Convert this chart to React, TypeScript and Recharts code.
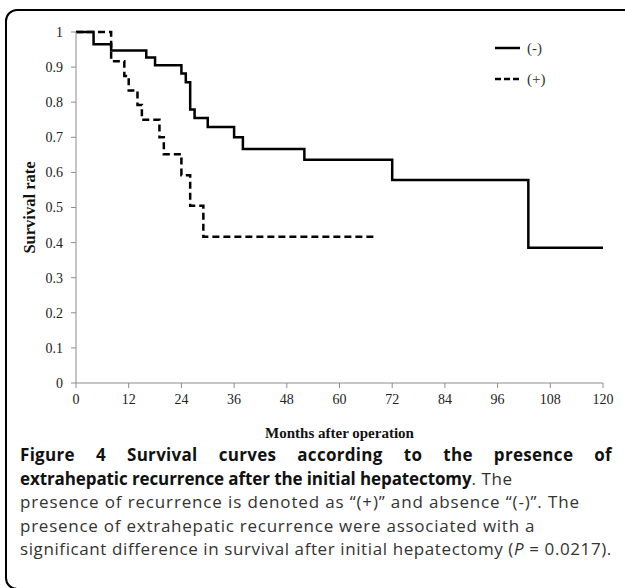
import { LineChart, Line, XAxis, YAxis, Label } from 'recharts';

// Kaplan-Meier steps
const negMonths = [0, 4, 8, 16, 18, 24, 25, 26, 27, 30, 36, 38, 52, 72, 103, 120];
const negSurvival = [1, 0.965, 0.947, 0.927, 0.905, 0.882, 0.857, 0.779, 0.755, 0.729, 0.7, 0.667, 0.636, 0.578, 0.385, 0.385];

const posMonths = [0, 8, 11, 12, 14, 15, 19, 20, 24, 26, 29, 68];
const posSurvival = [1, 0.917, 0.875, 0.833, 0.792, 0.75, 0.7, 0.652, 0.592, 0.505, 0.417, 0.417];

const xTicks = [0, 12, 24, 36, 48, 60, 72, 84, 96, 108, 120];
const yTicks = [0, 0.1, 0.2, 0.3, 0.4, 0.5, 0.6, 0.7, 0.8, 0.9, 1];

const negData = negMonths.map((m, i) => ({ month: m, rate: negSurvival[i] }));
const posData = posMonths.map((m, i) => ({ month: m, rate: posSurvival[i] }));

const SERIF = '"Liberation Serif", "Times New Roman", serif';
const SANS = '"Open Sans", "Noto Sans", sans-serif';

// legend drawn by hand, sits in the top right of the plot
function LegendBox() {
  return (
    <svg width={80} height={60} style={{ position: 'absolute', left: 490, top: 32 }}>
      <line x1={5} y1={16} x2={30} y2={16} stroke="#000" strokeWidth={2.5} />
      <text x={37} y={21} fontFamily={SERIF} fontSize={15} fill="#333">(-)</text>
      <line x1={5} y1={47} x2={30} y2={47} stroke="#000" strokeWidth={2.5} strokeDasharray="6 3" />
      <text x={37} y={52} fontFamily={SERIF} fontSize={15} fill="#333">(+)</text>
    </svg>
  );
}

export default function App() {
  return (
    <div style={{ position: 'absolute', left: 0, top: 0, width: 625, height: 588, overflow: 'hidden', background: '#fff' }}>
      {/* rounded frame round the figure */}
      <div style={{ position: 'absolute', left: 5, top: 9, width: 640, height: 577, border: '2px solid #000', borderRadius: 12 }} />

      <div style={{ position: 'absolute', left: 0, top: 0 }}>
        <LineChart width={625} height={445} margin={{ top: 32, right: 22, left: 0, bottom: 0 }}>
          <XAxis
            type="number"
            dataKey="month"
            domain={[0, 120]}
            ticks={xTicks}
            height={62}
            stroke="#8c8c8c"
            tickSize={5}
            tickMargin={6}
            tick={{ fontFamily: SERIF, fontSize: 14, fill: '#222' }}
          >
            <Label
              content={({ viewBox }: any) => (
                <text x={viewBox.x + viewBox.width / 2} y={438} textAnchor="middle"
                  fontFamily={SERIF} fontSize={15} fontWeight="bold" fill="#111">
                  Months after operation
                </text>
              )}
            />
          </XAxis>
          <YAxis
            type="number"
            domain={[0, 1]}
            ticks={yTicks}
            width={76}
            stroke="#8c8c8c"
            tickSize={5}
            tickMargin={8}
            tick={{ fontFamily: SERIF, fontSize: 14, fill: '#222' }}
          >
            <Label
              content={({ viewBox }: any) => {
                const cy = viewBox.y + viewBox.height / 2;
                return (
                  <text x={35} y={cy} transform={`rotate(-90 35 ${cy})`} textAnchor="middle"
                    fontFamily={SERIF} fontSize={16.5} fontWeight="bold" fill="#111">
                    Survival rate
                  </text>
                );
              }}
            />
          </YAxis>
          <Line data={negData} dataKey="rate" name="(-)" type="stepAfter" stroke="#000"
            strokeWidth={2.5} dot={false} isAnimationActive={false} />
          <Line data={posData} dataKey="rate" name="(+)" type="stepAfter" stroke="#000"
            strokeWidth={2.5} strokeDasharray="7 4" dot={false} isAnimationActive={false} />
        </LineChart>
        <LegendBox />
      </div>

      <div style={{ position: 'absolute', left: 20, top: 443, width: 592, fontFamily: SANS, fontSize: 17, lineHeight: '23.5px', color: '#333', letterSpacing: 0.6 }}>
        <div style={{ fontWeight: 'bold', color: '#111', textAlign: 'justify', textAlignLast: 'justify', letterSpacing: 0.3, whiteSpace: 'nowrap' }}>
          Figure 4 Survival curves according to the presence of
        </div>
        <div style={{ whiteSpace: 'nowrap' }}>
          <b style={{ color: '#111', letterSpacing: -0.1 }}>extrahepatic recurrence after the initial hepatectomy</b>. The
        </div>
        <div style={{ whiteSpace: 'nowrap', letterSpacing: 0.85 }}>
          presence of recurrence is denoted as “(+)” and absence “(-)”. The
        </div>
        <div style={{ whiteSpace: 'nowrap', letterSpacing: 0.75 }}>
          presence of extrahepatic recurrence were associated with a
        </div>
        <div style={{ whiteSpace: 'nowrap' }}>
          significant difference in survival after initial hepatectomy (<i>P</i> = 0.0217).
        </div>
      </div>
    </div>
  );
}
